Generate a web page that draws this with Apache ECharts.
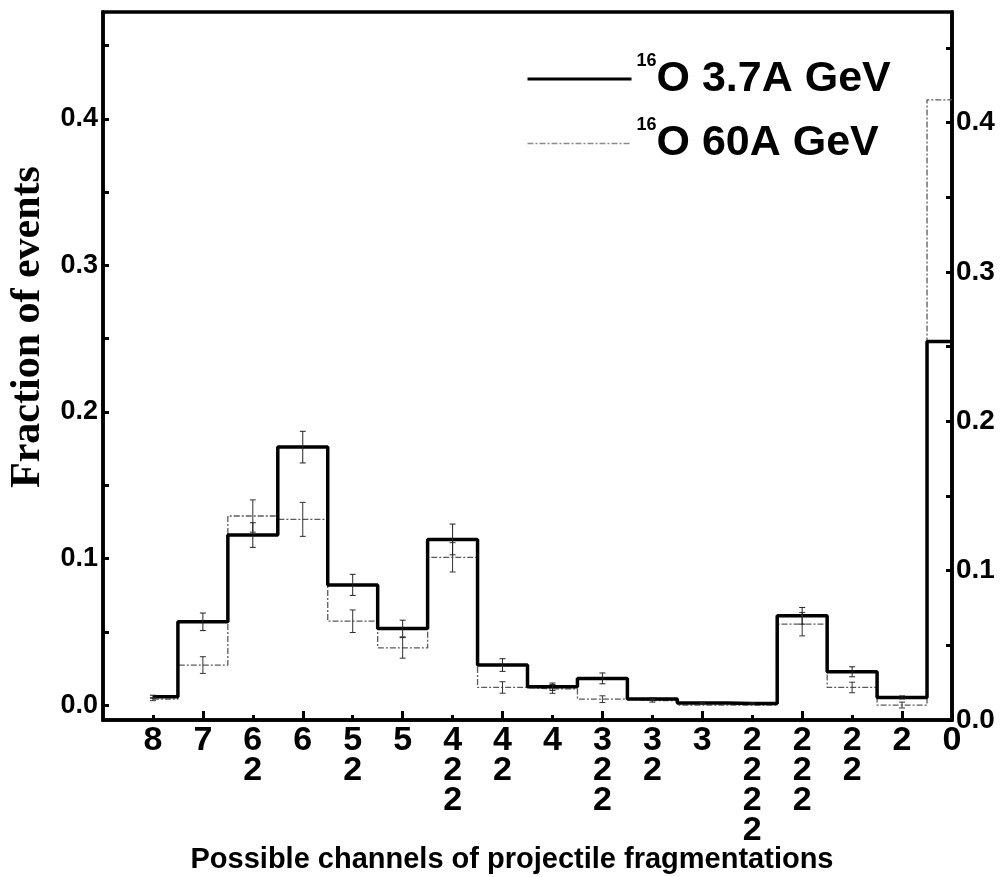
<!DOCTYPE html>
<html>
<head>
<meta charset="utf-8">
<script src="https://cdn.jsdelivr.net/npm/echarts@6/dist/echarts.min.js"></script>
<style>
  html, body { margin: 0; padding: 0; background: #fff; }
  #chart { width: 1002px; height: 877px; }
</style>
</head>
<body>
<div id="chart"></div>
<script>
// Fragmentation channels (charges of the fragments, stacked vertically)
const channels = ['8', '7', '6\n2', '6', '5\n2', '5', '4\n2\n2', '4\n2', '4',
  '3\n2\n2', '3\n2', '3', '2\n2\n2\n2', '2\n2\n2', '2\n2', '2', '0'];

// Fraction of events, 16O at 3.7A GeV, with statistical errors
const frac37 = [0.0057, 0.0568, 0.116, 0.176, 0.082, 0.0522, 0.113, 0.0273, 0.0125,
  0.0182, 0.0041, 0.0014, 0.0010, 0.0609, 0.0227, 0.0052, 0.248];
const err37 = [0.001, 0.006, 0.0084, 0.0108, 0.0072, 0.0057, 0.0105, 0.0043, 0.0025,
  0.0037, 0.001, 0.0005, 0.0005, 0.0057, 0.0034, 0.001, 0];

// Fraction of events, 16O at 60A GeV, with statistical errors
const frac60 = [0.004, 0.0273, 0.129, 0.1267, 0.0572, 0.039, 0.1008, 0.012, 0.011,
  0.004, 0.003, 0.0, 0.0, 0.0552, 0.012, 0.0, 0.413];
const err60 = [0.001, 0.0057, 0.011, 0.0116, 0.0077, 0.007, 0.01, 0.0039, 0.003,
  0.0023, 0.001, 0, 0, 0.008, 0.0036, 0.002, 0];

const yLabels = [0, 0.1, 0.2, 0.3, 0.4];
const yTickVals = [0, 0.05, 0.1, 0.15, 0.2, 0.25, 0.3, 0.35, 0.4, 0.45];

const seriesName37 = 'O 3.7A GeV';
const seriesName60 = 'O 60A GeV';

const idx = channels.map((c, i) => i);
const evenIdx = idx.filter(i => i % 2 === 0);
const oddIdx = idx.filter(i => i % 2 === 1);

const chart = echarts.init(document.getElementById('chart'), null, { renderer: 'canvas' });

const FONT = '"Liberation Sans", Arial, sans-serif';
const DASH = [6, 2, 2, 2];

function errorBars(color) {
  return function (params, api) {
    const x = api.value(0), v = api.value(1), e = api.value(2);
    if (!e) return null;
    const top = api.coord([x, v + e]);
    const bot = api.coord([x, v - e]);
    const cap = 3;
    const style = { stroke: color, lineWidth: 1 };
    return {
      type: 'group',
      children: [
        { type: 'line', shape: { x1: top[0], y1: top[1], x2: bot[0], y2: bot[1] }, style },
        { type: 'line', shape: { x1: top[0] - cap, y1: top[1], x2: top[0] + cap, y2: top[1] }, style },
        { type: 'line', shape: { x1: bot[0] - cap, y1: bot[1], x2: bot[0] + cap, y2: bot[1] }, style }
      ]
    };
  };
}

const gridRect = { left: 103, right: 50, top: 12, bottom: 157 };

const option = {
  backgroundColor: '#fff',
  animation: false,
  grid: [
    Object.assign({ show: true, borderColor: '#000', borderWidth: 3.5, backgroundColor: 'transparent' }, gridRect),
    Object.assign({ show: false }, gridRect)
  ],
  legend: {
    orient: 'vertical',
    left: 521,
    top: 47,
    itemWidth: 104,
    itemHeight: 14,
    itemGap: 16,
    itemStyle: { opacity: 0 },
    data: [
      { name: seriesName37, lineStyle: { color: '#000', width: 3, type: 'solid' } },
      { name: seriesName60, lineStyle: { color: '#8a8a8a', width: 1.3, type: DASH } }
    ],
    formatter: name => '{sup|16}{main|' + name + '}',
    textStyle: {
      color: '#000',
      rich: {
        sup: { fontSize: 18, fontWeight: 'bold', fontFamily: FONT, verticalAlign: 'top', padding: [0, 0, 0, 0], lineHeight: 20 },
        main: { fontSize: 43, fontWeight: 'bold', fontFamily: FONT, lineHeight: 54 }
      }
    }
  },
  xAxis: [
    {
      type: 'value', gridIndex: 0, min: -1, max: 16, position: 'bottom',
      axisLine: { show: true, onZero: false, lineStyle: { color: '#000', width: 3.5 } },
      axisTick: { show: true, inside: true, length: 5, customValues: evenIdx, lineStyle: { color: '#000', width: 3 } },
      axisLabel: {
        show: true, customValues: idx, margin: 6,
        formatter: v => channels[Math.round(v)],
        color: '#000', fontSize: 34, fontWeight: 'bold', fontFamily: FONT, lineHeight: 30
      },
      splitLine: { show: false }
    },
    {
      type: 'value', gridIndex: 1, min: -1, max: 16, position: 'bottom',
      axisLine: { show: false, onZero: false },
      axisTick: { show: true, inside: true, length: 9, customValues: oddIdx, lineStyle: { color: '#000', width: 3 } },
      axisLabel: { show: false },
      splitLine: { show: false }
    }
  ],
  yAxis: [
    {
      type: 'value', gridIndex: 0, position: 'left', min: -0.0102, max: 0.4729,
      axisLine: { show: true, onZero: false, lineStyle: { color: '#000', width: 3.5 } },
      axisTick: { show: true, inside: true, length: 6, customValues: yTickVals, lineStyle: { color: '#000', width: 3 } },
      axisLabel: {
        customValues: yLabels, margin: 5, formatter: v => v.toFixed(1),
        color: '#000', fontSize: 27, fontWeight: 'bold', fontFamily: FONT
      },
      splitLine: { show: false }
    },
    {
      type: 'value', gridIndex: 0, position: 'right', min: 0, max: 0.474,
      axisLine: { show: true, onZero: false, lineStyle: { color: '#000', width: 3.5 } },
      axisTick: { show: true, inside: true, length: 6, customValues: yTickVals, lineStyle: { color: '#000', width: 3 } },
      axisLabel: {
        customValues: yLabels, margin: 4, formatter: v => v.toFixed(1),
        color: '#000', fontSize: 28, fontWeight: 'bold', fontFamily: FONT
      },
      splitLine: { show: false }
    },
    { type: 'value', gridIndex: 1, show: false, min: 0, max: 1, axisLine: { onZero: false } }
  ],
  graphic: [
    {
      type: 'text', x: 28, y: 327, rotation: Math.PI / 2,
      style: { text: 'Fraction of events', font: 'bold 42px "Liberation Serif", "Times New Roman", serif', fill: '#000', align: 'center', verticalAlign: 'middle' }
    },
    {
      type: 'text', x: 512, y: 860,
      style: { text: 'Possible channels of projectile fragmentations', font: 'bold 29px ' + FONT, fill: '#000', align: 'center', verticalAlign: 'middle' }
    }
  ],
  series: [
    {
      name: seriesName60, type: 'line', step: 'middle', xAxisIndex: 0, yAxisIndex: 0,
      data: frac60.map((v, i) => [i, v]), symbol: 'none', z: 3,
      lineStyle: { color: '#5a5a5a', width: 1.3, type: DASH },
      itemStyle: { color: '#5a5a5a' }
    },
    {
      name: seriesName37, type: 'line', step: 'middle', xAxisIndex: 0, yAxisIndex: 0,
      data: frac37.map((v, i) => [i, v]), symbol: 'none', z: 4,
      lineStyle: { color: '#000', width: 3.5 },
      itemStyle: { color: '#000' }
    },
    {
      type: 'custom', xAxisIndex: 0, yAxisIndex: 0, z: 5,
      renderItem: errorBars('#333'),
      data: frac60.map((v, i) => [i, v, err60[i]])
    },
    {
      type: 'custom', xAxisIndex: 0, yAxisIndex: 0, z: 5,
      renderItem: errorBars('#222'),
      data: frac37.map((v, i) => [i, v, err37[i]])
    }
  ]
};

chart.setOption(option);
</script>
</body>
</html>
